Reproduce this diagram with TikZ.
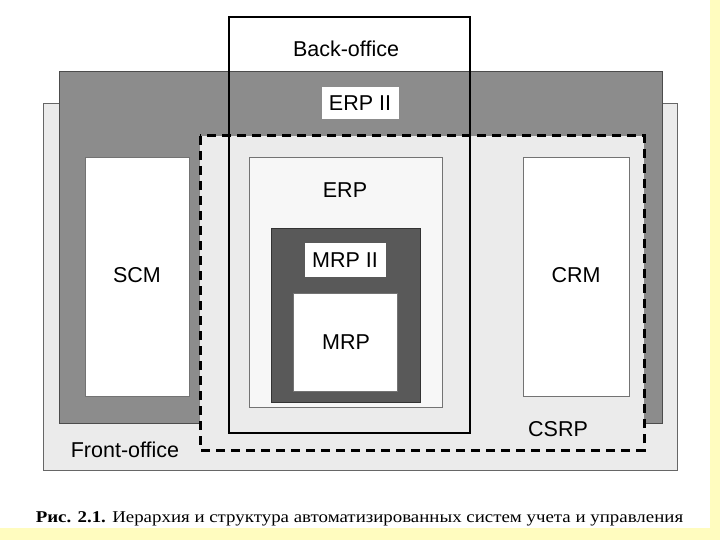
\documentclass[tikz,border=0pt]{standalone}
\usepackage{fontspec}
\setmainfont{Liberation Serif}
\newfontfamily\labelfont{Liberation Sans}
\begin{document}
\begin{tikzpicture}[x=1pt,y=-1pt,
  lbl/.style={font=\labelfont\fontsize{21.5}{24}\selectfont, text=black, inner sep=0pt},
  whitebox/.style={fill=white, draw=black!55, line width=0.8pt},
  darkfill/.style={fill=black!45, draw=black!70, line width=0.8pt},
  lightfill/.style={fill=black!8, draw=black!60, line width=0.8pt},
  csrpline/.style={draw=black, line width=3pt, dash pattern=on 9pt off 6pt},
  backline/.style={draw=black, line width=2.4pt}
]
\useasboundingbox (0,0) rectangle (720,540);
\fill[white] (0,0) rectangle (720,540);
\fill[yellow!25] (710,0) rectangle (720,540);
\fill[yellow!25] (0,528) rectangle (720,540);
% Front-office
\path[lightfill] (43,103) rectangle (677,470);
% ERP II
\path[darkfill] (59,71) rectangle (662,423);
% CSRP interior
\fill[black!8] (200,136) rectangle (644,450);
% SCM and CRM
\path[whitebox] (85,157) rectangle (189,396);
\path[whitebox] (523,157) rectangle (629,396);
% ERP
\path[fill=black!3, draw=black!55, line width=0.8pt] (249,157) rectangle (442,407);
% MRP II
\path[fill=black!65, draw=black!80, line width=0.8pt] (271,228) rectangle (420,402);
\path[fill=white] (305,243) rectangle (386,277);
% MRP
\path[whitebox] (293,293) rectangle (397,391);
% ERP II label
\path[fill=white] (322,87) rectangle (399,119);
% CSRP dashed border
\draw[csrpline] (200,136) rectangle (644,450);
% Back-office
\draw[backline] (229,17) rectangle (470,433);
% labels
\node[lbl] (back) at (346,49) {Back-office};
\node[lbl] (erpii) at (360,103) {ERP II};
\node[lbl] (erp) at (345,190) {ERP};
\node[lbl] (mrpii) at (345,260) {MRP II};
\node[lbl] (mrp) at (346,342) {MRP};
\node[lbl] (scm) at (137,275) {SCM};
\node[lbl] (crm) at (576,275) {CRM};
\node[lbl] (csrp) at (558,429) {CSRP};
\node[lbl] (front) at (125,450) {Front-office};
\node[font=\fontsize{16.5}{18}\selectfont, inner sep=0pt, anchor=base] (cap) at (359.5,522)
  {\scalebox{1.145}[1]{\textbf{Рис. 2.1.} Иерархия и структура автоматизированных систем учета и управления}};
\end{tikzpicture}
\end{document}
